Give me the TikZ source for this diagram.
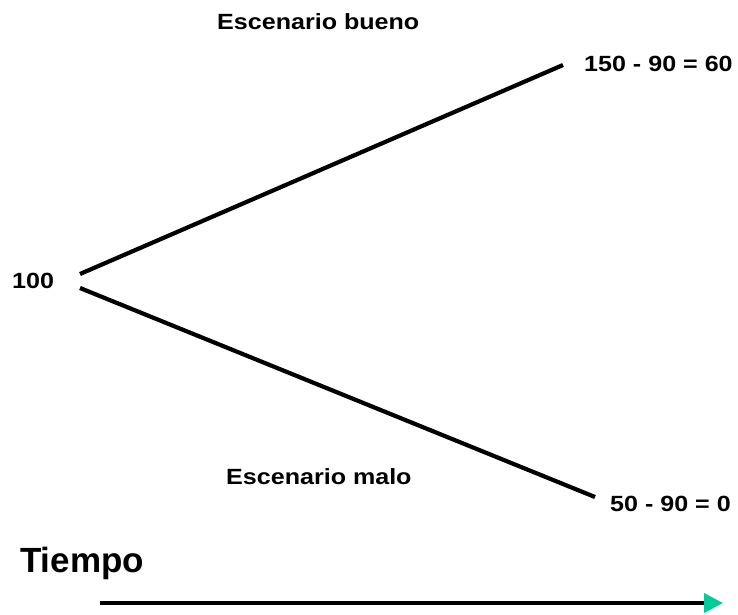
\documentclass[tikz,border=0pt]{standalone}
\usepackage{fontspec}
\setmainfont{Liberation Sans}
\newfontfamily\widesans[FakeStretch=1.14]{Liberation Sans}
\usetikzlibrary{arrows.meta}
\definecolor{tealgreen}{RGB}{0,204,153}
\tikzset{
  lbl/.style={font=\widesans\bfseries\fontsize{22}{26}\selectfont, inner sep=0pt, anchor=west},
  branch/.style={line width=4.2pt},
  timeline/.style={line width=4pt, -{Triangle[color=tealgreen, length=19pt, width=19pt]}}
}

\begin{document}
\begin{tikzpicture}[x=1pt, y=-1pt]
    \useasboundingbox (0,0) rectangle (738,614);

    \coordinate (up0) at (80,274);
    \coordinate (up1) at (563,65);
    \coordinate (dn0) at (80,288);
    \coordinate (dn1) at (595,497);

    \node [lbl] (start) at (12,281) {100};
    \node [lbl] (good) at (217,22) {Escenario bueno};
    \node [lbl] (goodval) at (584,64) {150 - 90 = 60};
    \node [lbl] (bad) at (226,477) {Escenario malo};
    \node [lbl] (badval) at (610,504) {50 - 90 = 0};
    \node [lbl, font=\bfseries\fontsize{35}{40}\selectfont] (time) at (20,563) {Tiempo};

    \draw [branch] (up0) -- (up1);
    \draw [branch] (dn0) -- (dn1);

    \coordinate (t0) at (100,603);
    \coordinate (t1) at (723,603);
    \draw [timeline] (t0) -- (t1);
  \end{tikzpicture}
\end{document}
